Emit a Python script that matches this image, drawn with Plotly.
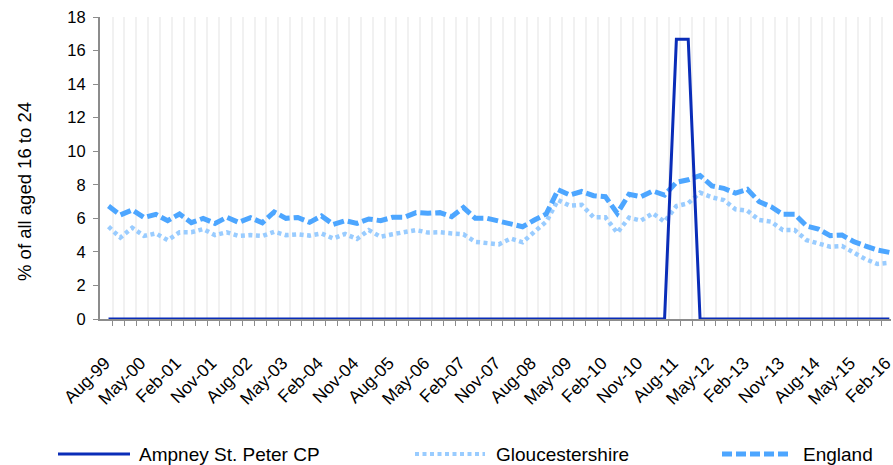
import pandas as pd
import plotly.graph_objects as go

# quarterly labels Aug-99 .. Feb-16
quarters = pd.date_range("1999-08-01", periods=67, freq="3MS").strftime("%b-%y").tolist()

ampney = [0.0] * 48 + [16.67, 16.67] + [0.0] * 17

gloucestershire = [
    5.5, 4.85, 5.44, 4.95, 5.1, 4.7, 5.17, 5.17, 5.36, 5.0,
    5.17, 4.95, 5.0, 4.95, 5.2, 5.0, 5.05, 4.97, 5.1, 4.8,
    5.07, 4.77, 5.3, 4.9, 5.05, 5.17, 5.3, 5.15, 5.17, 5.1,
    5.05, 4.6, 4.55, 4.45, 4.8, 4.57, 5.2, 5.8, 7.09, 6.75,
    6.8, 6.06, 6.06, 5.14, 6.04, 5.86, 6.3, 5.8, 6.73, 6.9,
    7.53, 7.25, 7.09, 6.54, 6.45, 5.9, 5.8, 5.3, 5.3, 4.7,
    4.5, 4.31, 4.35, 3.95, 3.56, 3.28, 3.35,
]

england = [
    6.73, 6.2, 6.5, 6.05, 6.24, 5.86, 6.26, 5.74, 6.0, 5.7,
    6.06, 5.76, 6.04, 5.74, 6.38, 6.0, 6.05, 5.76, 6.14, 5.64,
    5.86, 5.7, 5.96, 5.86, 6.06, 6.06, 6.34, 6.3, 6.34, 6.1,
    6.64, 6.0, 6.0, 5.85, 5.72, 5.5, 5.9, 6.26, 7.7, 7.39,
    7.6, 7.35, 7.29, 6.3, 7.43, 7.29, 7.63, 7.39, 8.15, 8.3,
    8.55, 7.93, 7.79, 7.5, 7.73, 6.99, 6.69, 6.24, 6.24, 5.54,
    5.36, 4.97, 5.0, 4.61, 4.35, 4.11, 3.97,
]

idx = list(range(len(quarters)))
label_idx = idx[::3]

C_AMP = "#0A2DB8"
C_GLO = "#99CCFF"
C_ENG = "#4DA6FF"

fig = go.Figure()
fig.add_trace(go.Scatter(x=idx, y=gloucestershire, mode="lines", name="Gloucestershire",
                         line=dict(color=C_GLO, width=4.5, dash="4px,3.5px")))
fig.add_trace(go.Scatter(x=idx, y=england, mode="lines", name="England",
                         line=dict(color=C_ENG, width=5, dash="11px,4px")))
fig.add_trace(go.Scatter(x=idx, y=ampney, mode="lines", name="Ampney St. Peter CP",
                         line=dict(color=C_AMP, width=3)))

# legend and y title placed by hand so they sit where the original has them
# (positions in page pixels, plot area is x 100..891, y 17..319)
def px_x(p):
    return (p - 100) / 791

def px_y(p):
    return (319 - p) / 302

legend = [
    ("Ampney St. Peter CP", C_AMP, "solid", 3, 58, 130, 137),
    ("Gloucestershire", C_GLO, "4px,3.5px", 4, 415, 485, 494),
    ("England", C_ENG, "10px,4px", 5, 722, 792, 801),
]
for name, col, dash, w, x0, x1, xt in legend:
    fig.add_shape(type="line", xref="paper", yref="paper",
                  x0=px_x(x0), x1=px_x(x1), y0=px_y(454), y1=px_y(454),
                  line=dict(color=col, width=w, dash=dash))
    fig.add_annotation(xref="paper", yref="paper", x=px_x(xt), y=px_y(454),
                       text=name, showarrow=False, xanchor="left", yanchor="middle",
                       font=dict(size=19, color="#000"))

fig.add_annotation(xref="paper", yref="paper", x=px_x(24), y=px_y(192),
                   text="% of all aged 16 to 24", textangle=-90, showarrow=False,
                   xanchor="center", yanchor="middle", font=dict(size=18.5, color="#000"))

fig.update_layout(
    width=893, height=465,
    margin=dict(l=100, r=2, t=17, b=146),
    plot_bgcolor="white", paper_bgcolor="white",
    font=dict(family="Liberation Sans, Arial, sans-serif", color="#000"),
    showlegend=False,
)
# labels sit a touch left of their point, as in the original
fig.update_xaxes(
    range=[-0.72, 66.14], automargin=False,
    tickvals=[i - 0.3 for i in label_idx], ticktext=[quarters[i] for i in label_idx],
    tickangle=-45, tickfont=dict(size=17.5), ticks="", showgrid=False,
    ticklabelstandoff=25, ticklabeloverflow="allow",
    minor=dict(tickvals=[i + 0.34 for i in idx], ticks="outside", ticklen=5,
               tickcolor="#8c8c8c", showgrid=True, gridcolor="#f1f1f1", gridwidth=2),
    showline=True, linecolor="#8c8c8c", linewidth=2, zeroline=False,
)
fig.update_yaxes(
    range=[0, 18], dtick=2, showgrid=False, zeroline=False, automargin=False,
    showline=True, linecolor="#8c8c8c", linewidth=2,
    ticks="outside", ticklen=5, tickcolor="#8c8c8c", tickfont=dict(size=16.5),
    ticklabelstandoff=4, ticklabeloverflow="allow",
)

# drop the browser's default body margin so the figure fills the window
fig.write_html("out.html", config={"displayModeBar": False}, post_script=(
    "document.body.style.margin='0';"
    "document.documentElement.style.overflow='hidden';"
))
